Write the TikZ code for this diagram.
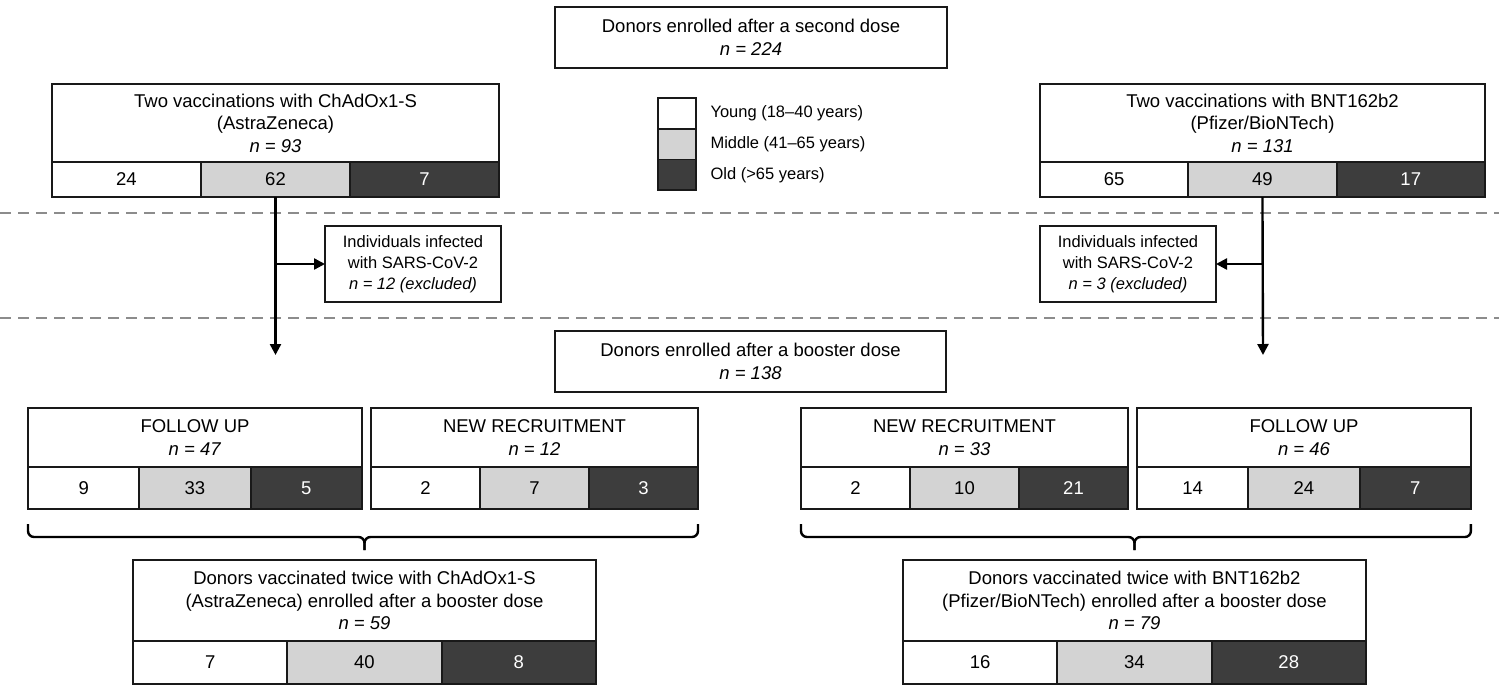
\documentclass[tikz,border=0pt]{standalone}
\usepackage{fontspec}
\setmainfont{Liberation Sans}
\usepackage{tikz}
\usetikzlibrary{arrows.meta, calc}

\definecolor{middlegray}{HTML}{D3D3D3}
\definecolor{oldgray}{HTML}{3D3D3D}

\begin{document}
\begin{tikzpicture}[
    x=1pt, y=-1pt,
    >={Triangle[length=11pt, width=11pt]},
    box style/.style={draw=black!90, line width=1.8pt, fill=white, inner sep=0pt, outer sep=0pt, anchor=north west, align=center, font=\fontsize{18.5}{22.5}\selectfont},
    cell style/.style={box style, #1},
    young/.style={fill=white},
    middle/.style={fill=middlegray},
    old/.style={fill=oldgray, text=white},
    small box style/.style={box style, font=\fontsize{16.5}{21}\selectfont},
    legend style/.style={anchor=west, font=\fontsize{16.5}{20}\selectfont},
    arrow style/.style={line width=2.4pt, ->},
    bracket style/.style={line width=2.4pt, rounded corners=6pt},
    dashed line style/.style={line width=2pt, black!45, dash pattern=on 11pt off 7pt}
]

\useasboundingbox (0,0) rectangle (1499,686);

% Separating dashed lines
\draw[dashed line style] (0,213) -- (1499,213);
\draw[dashed line style] (0,318) -- (1499,318);

% Donors after the second dose
\node[box style, minimum width=392pt, minimum height=61pt] (dose2) at (555,7) {Donors enrolled after a second dose\\\textit{n = 224}};

% ChAdOx1-S (two doses)
\node[box style, minimum width=447pt, minimum height=78pt] (azHead) at (52,84) {Two vaccinations with ChAdOx1-S\\(AstraZeneca)\\\textit{n = 93}};
\foreach \v/\s [count=\i from 0] in {24/young, 62/middle, 7/old} {
    \node[cell style=\s, minimum width=149pt, minimum height=35pt] (azCell\i) at ({52+149*\i},162) {\v};
}

% BNT162b2 (two doses)
\node[box style, minimum width=445pt, minimum height=78pt] (bnHead) at (1040,84) {Two vaccinations with BNT162b2\\(Pfizer/BioNTech)\\\textit{n = 131}};
\foreach \v/\s [count=\i from 0] in {65/young, 49/middle, 17/old} {
    \node[cell style=\s, minimum width=148.3pt, minimum height=35pt] (bnCell\i) at ({1040+148.3*\i},162) {\v};
}

% Legend
\foreach \s/\t [count=\i from 0] in {young/Young (18--40 years), middle/Middle (41--65 years), old/Old (>65 years)} {
    \node[cell style=\s, minimum width=38pt, minimum height=30.7pt] (key\i) at (658,{98+30.7*\i}) {};
    \node[legend style] (keyText\i) at ($(key\i.east)+(11,0)$) {\t};
}

% Excluded donors
\node[small box style, minimum width=176pt, minimum height=76pt] (exL) at (325,226) {Individuals infected\\with SARS-CoV-2\\\textit{n = 12 (excluded)}};
\node[small box style, minimum width=176pt, minimum height=76pt] (exR) at (1040,226) {Individuals infected\\with SARS-CoV-2\\\textit{n = 3 (excluded)}};

% Arrows
\coordinate (azEnd) at (275.5,355);
\coordinate (bnEnd) at (1263,355);
\draw[arrow style] (azCell1.south) -- (azEnd);
\draw[arrow style] (bnCell1.south) -- (bnEnd);
\draw[arrow style] (azCell1.south |- exL.west) -- (exL.west);
\draw[arrow style] (bnCell1.south |- exR.east) -- (exR.east);

% Donors after the booster
\node[box style, minimum width=391pt, minimum height=61pt] (booster) at (555,331) {Donors enrolled after a booster dose\\\textit{n = 138}};

% Follow up and new recruitment
\node[box style, minimum width=334pt, minimum height=59pt] (fuL) at (28,408) {FOLLOW UP\\\textit{n = 47}};
\foreach \v/\s [count=\i from 0] in {9/young, 33/middle, 5/old} {
    \node[cell style=\s, minimum width=111.3pt, minimum height=42pt] (fuLCell\i) at ({28+111.3*\i},467) {\v};
}
\node[box style, minimum width=327pt, minimum height=59pt] (nrL) at (371,408) {NEW RECRUITMENT\\\textit{n = 12}};
\foreach \v/\s [count=\i from 0] in {2/young, 7/middle, 3/old} {
    \node[cell style=\s, minimum width=109pt, minimum height=42pt] (nrLCell\i) at ({371+109*\i},467) {\v};
}
\node[box style, minimum width=327pt, minimum height=59pt] (nrR) at (801,408) {NEW RECRUITMENT\\\textit{n = 33}};
\foreach \v/\s [count=\i from 0] in {2/young, 10/middle, 21/old} {
    \node[cell style=\s, minimum width=109pt, minimum height=42pt] (nrRCell\i) at ({801+109*\i},467) {\v};
}
\node[box style, minimum width=334pt, minimum height=59pt] (fuR) at (1137,408) {FOLLOW UP\\\textit{n = 46}};
\foreach \v/\s [count=\i from 0] in {14/young, 24/middle, 7/old} {
    \node[cell style=\s, minimum width=111.3pt, minimum height=42pt] (fuRCell\i) at ({1137+111.3*\i},467) {\v};
}

% Donors vaccinated twice, after the booster
\node[box style, minimum width=463pt, minimum height=81pt] (botL) at (133,560) {Donors vaccinated twice with ChAdOx1-S\\(AstraZeneca) enrolled after a booster dose\\\textit{n = 59}};
\foreach \v/\s [count=\i from 0] in {7/young, 40/middle, 8/old} {
    \node[cell style=\s, minimum width=154.3pt, minimum height=43pt] (botLCell\i) at ({133+154.3*\i},641) {\v};
}
\node[box style, minimum width=463pt, minimum height=81pt] (botR) at (903,560) {Donors vaccinated twice with BNT162b2\\(Pfizer/BioNTech) enrolled after a booster dose\\\textit{n = 79}};
\foreach \v/\s [count=\i from 0] in {16/young, 34/middle, 28/old} {
    \node[cell style=\s, minimum width=154.3pt, minimum height=43pt] (botRCell\i) at ({903+154.3*\i},641) {\v};
}

% Brackets
\coordinate (brLa) at ([yshift=-15pt]fuLCell0.south west);
\coordinate (brLb) at ([yshift=-15pt]nrLCell2.south east);
\coordinate (brLm) at ([yshift=23pt]botL.north);
\coordinate (brLt) at ([yshift=10pt]botL.north);
\draw[bracket style] (brLa) |- (brLm) -- (brLt);
\draw[bracket style] (brLb) |- (brLm) -- (brLt);

\coordinate (brRa) at ([yshift=-15pt]nrRCell0.south west);
\coordinate (brRb) at ([yshift=-15pt]fuRCell2.south east);
\coordinate (brRm) at ([yshift=23pt]botR.north);
\coordinate (brRt) at ([yshift=10pt]botR.north);
\draw[bracket style] (brRa) |- (brRm) -- (brRt);
\draw[bracket style] (brRb) |- (brRm) -- (brRt);
\end{tikzpicture}
\end{document}
